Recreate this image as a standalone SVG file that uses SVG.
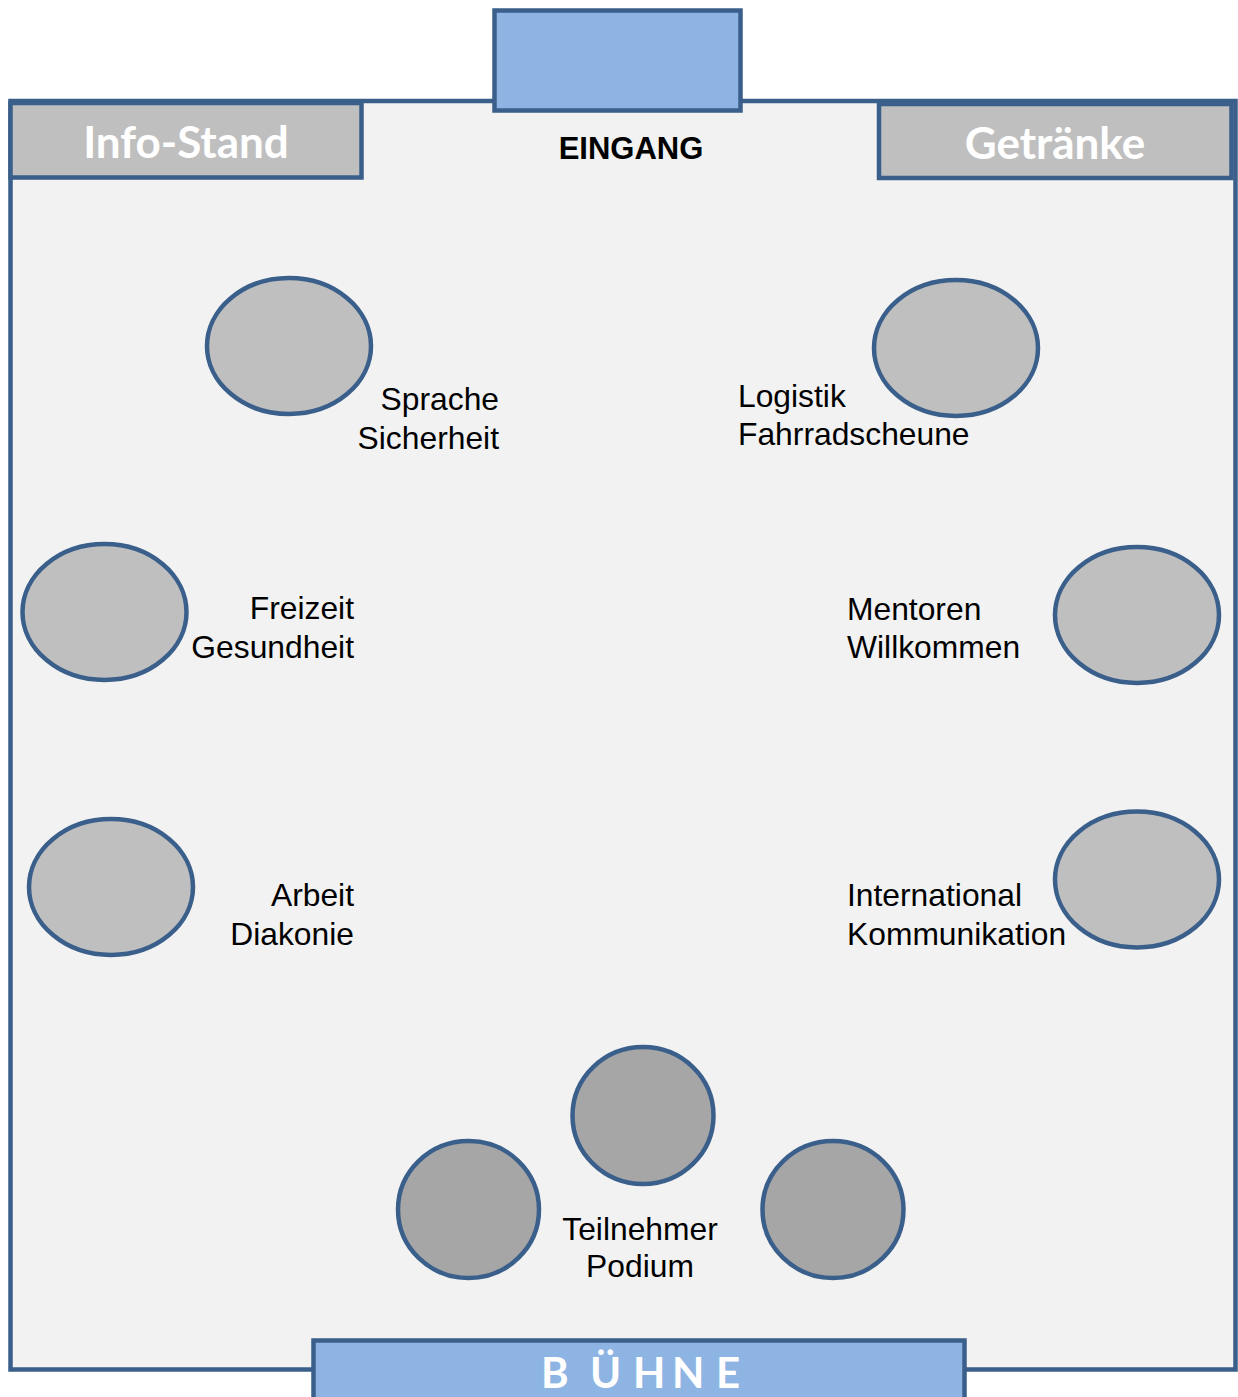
<svg xmlns="http://www.w3.org/2000/svg" width="1238" height="1397" viewBox="0 0 1238 1397">
<style>
.wall{fill:#F2F2F2;stroke:#3A5F8B;stroke-width:4.5}
.stand{fill:#BFBFBF;stroke:#3A5F8B;stroke-width:4.5}
.door{fill:#8EB4E3;stroke:#3A5F8B;stroke-width:4.5}
.tbl{fill:#BFBFBF;stroke:#3A5F8B;stroke-width:4.5}
.tbl2{fill:#A6A6A6;stroke:#3A5F8B;stroke-width:4.5}
.big{font-family:Lato,"Open Sans","Liberation Sans",sans-serif;font-weight:bold;fill:#FFFFFF;font-size:44px}
.bn{font-size:42px}
.lbl{font-family:"Liberation Sans",Arial,sans-serif;font-size:31.8px;fill:#000000}
.ein{font-family:"Liberation Sans",Arial,sans-serif;font-size:31px;font-weight:bold;fill:#000000}
</style>
<rect id="raum" class="wall" x="10.5" y="101" width="1225" height="1268.5"/>
<g id="eingang">
<rect class="door" x="494.5" y="10.5" width="246" height="100"/>
<text class="ein" x="631" y="159" text-anchor="middle">EINGANG</text>
</g>
<g id="info-stand">
<rect class="stand" x="10.5" y="103" width="351" height="74.5"/>
<text class="big" x="186" y="158" text-anchor="middle">Info-Stand</text>
</g>
<g id="getraenke">
<rect class="stand" x="879" y="104" width="352.5" height="74"/>
<text class="big" x="1055" y="159" text-anchor="middle">Getränke</text>
</g>
<g id="buehne">
<rect class="door" x="313.5" y="1340.5" width="651" height="60"/>
<text class="big bn" y="1388" x="541 566 590 633 672 716">B ÜHNE</text>
</g>
<g id="sprache">
<ellipse class="tbl" cx="289" cy="346" rx="82" ry="68"/>
<text class="lbl" text-anchor="end"><tspan x="499" y="410">Sprache</tspan><tspan x="499" y="449">Sicherheit</tspan></text>
</g>
<g id="logistik">
<ellipse class="tbl" cx="956" cy="348" rx="82" ry="68"/>
<text class="lbl"><tspan x="738" y="407">Logistik</tspan><tspan x="738" y="445">Fahrradscheune</tspan></text>
</g>
<g id="freizeit">
<ellipse class="tbl" cx="104.5" cy="612" rx="82" ry="68"/>
<text class="lbl" text-anchor="end"><tspan x="354" y="619">Freizeit</tspan><tspan x="354" y="658">Gesundheit</tspan></text>
</g>
<g id="mentoren">
<ellipse class="tbl" cx="1137" cy="615" rx="82" ry="68"/>
<text class="lbl"><tspan x="847" y="620">Mentoren</tspan><tspan x="847" y="658">Willkommen</tspan></text>
</g>
<g id="arbeit">
<ellipse class="tbl" cx="111" cy="887" rx="82" ry="68"/>
<text class="lbl" text-anchor="end"><tspan x="354" y="906">Arbeit</tspan><tspan x="354" y="945">Diakonie</tspan></text>
</g>
<g id="international">
<ellipse class="tbl" cx="1137" cy="879.5" rx="82" ry="68"/>
<text class="lbl"><tspan x="847" y="906">International</tspan><tspan x="847" y="945">Kommunikation</tspan></text>
</g>
<g id="podium">
<ellipse class="tbl2" cx="643" cy="1115.5" rx="70.5" ry="68.5"/>
<ellipse class="tbl2" cx="468.5" cy="1209.5" rx="70.5" ry="68.5"/>
<ellipse class="tbl2" cx="833" cy="1209.5" rx="70.5" ry="68.5"/>
<text class="lbl" text-anchor="middle"><tspan x="640" y="1240">Teilnehmer</tspan><tspan x="640" y="1277">Podium</tspan></text>
</g>
<g id="connectors"/>
</svg>
